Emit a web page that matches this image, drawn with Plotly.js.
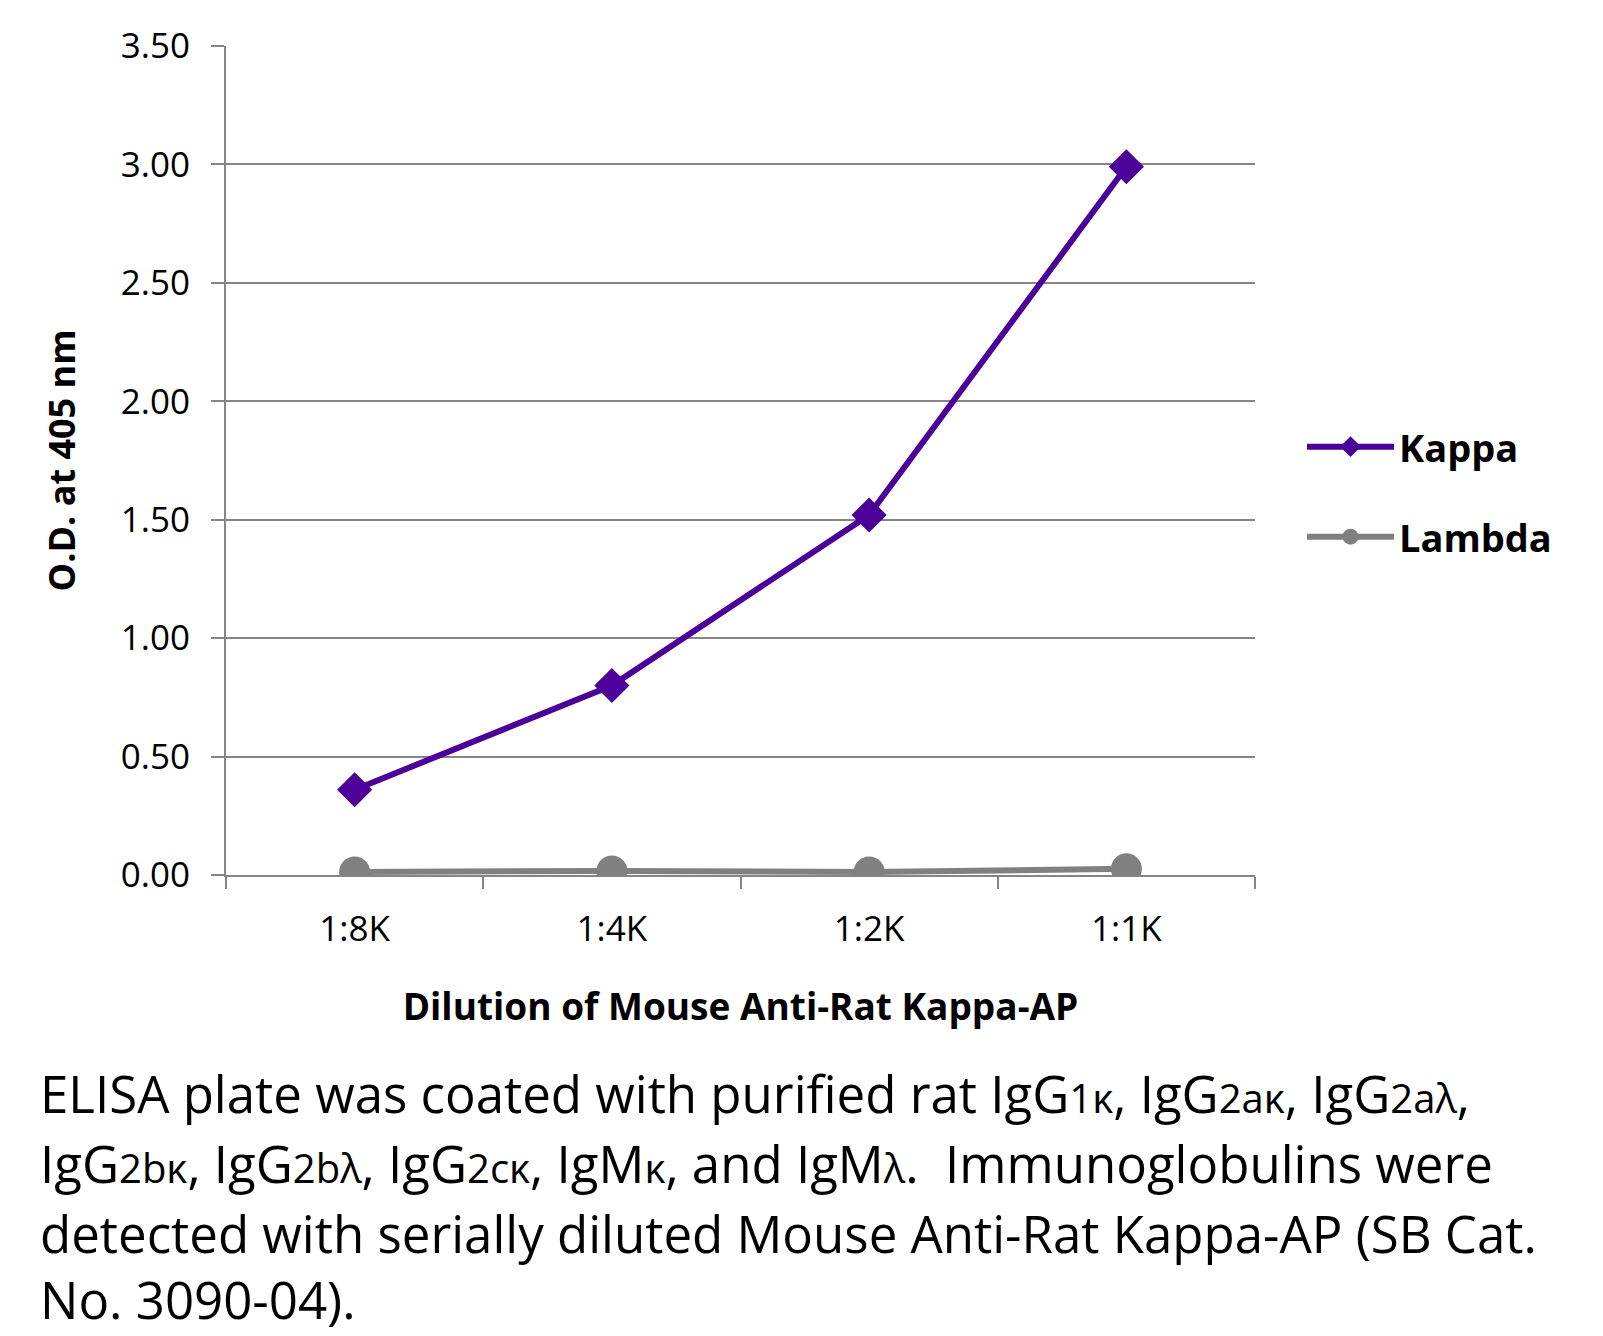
<!DOCTYPE html>
<html>
<head>
<meta charset="utf-8">
<script src="https://cdn.plot.ly/plotly-3.0.1.min.js"></script>
<style>html,body{margin:0;padding:0;background:#fff;}#chart{width:1603px;height:1336px;}</style>
</head>
<body>
<div id="chart"></div>
<script>
const categories = ["1:8K", "1:4K", "1:2K", "1:1K"];
const kappa = [0.36, 0.80, 1.52, 2.99];
const lambda = [0.013, 0.017, 0.013, 0.026];
const seriesNames = ["Kappa", "Lambda"];
const yTitle = "O.D. at 405 nm";
const xTitle = "Dilution of Mouse Anti-Rat Kappa-AP";
const captionLines = [
  'ELISA plate was coated with purified rat IgG<span style="font-size:40px">1κ</span>, IgG<span style="font-size:40px">2aκ</span>, IgG<span style="font-size:40px">2aλ</span>,',
  'IgG<span style="font-size:40px">2bκ</span>, IgG<span style="font-size:40px">2bλ</span>, IgG<span style="font-size:40px">2cκ</span>, IgM<span style="font-size:40px">κ</span>, and IgM<span style="font-size:40px">λ</span>.  Immunoglobulins were',
  'detected with serially diluted Mouse Anti-Rat Kappa-AP (SB Cat.',
  'No. 3090-04).'
];

const FONT = '"Open Sans", "Noto Sans", sans-serif';
const L = 226, R = 1255, T = 46, B = 875;
const W = 1603, H = 1336;
const pw = R - L, ph = B - T;
const px = v => (v - L) / pw;
const py = v => (B - v) / ph;

const traces = [
  {x: categories, y: kappa, name: seriesNames[0], type: 'scatter', mode: 'lines+markers',
   line: {color: '#4a0099', width: 6}, marker: {symbol: 'diamond', size: 27, color: '#4a0099'},
   legend: 'legend'},
  {x: categories, y: lambda, name: seriesNames[1], type: 'scatter', mode: 'lines+markers',
   line: {color: '#808080', width: 6}, marker: {symbol: 'circle', size: 31, color: '#808080'},
   legend: 'legend2'}
];

const captionY = [1093, 1163, 1233, 1299];
const annotations = captionLines.map((t, i) => ({
  text: t, xref: 'paper', yref: 'paper', x: px(38), y: py(captionY[i]),
  xanchor: 'left', yanchor: 'middle', showarrow: false, align: 'left',
  font: {family: FONT, size: 51, color: '#000'}
}));

const legendBase = {
  xanchor: 'left', yanchor: 'middle', bgcolor: 'rgba(0,0,0,0)', itemwidth: 87,
  font: {family: FONT, size: 38, color: '#000', weight: 'bold'}
};

const layout = {
  width: W, height: H,
  margin: {l: L, r: W - R, t: T, b: H - B},
  paper_bgcolor: '#fff', plot_bgcolor: '#fff',
  showlegend: true,
  legend: Object.assign({}, legendBase, {x: px(1302), y: py(447)}),
  legend2: Object.assign({}, legendBase, {x: px(1302), y: py(537)}),
  xaxis: {
    type: 'category', range: [-0.5, 3.5], tickson: 'boundaries',
    ticks: 'outside', ticklen: 12, tickwidth: 2, tickcolor: '#858585',
    showline: true, linecolor: '#858585', linewidth: 2, showgrid: false,
    ticklabelstandoff: 22,
    tickfont: {family: FONT, size: 35, color: '#000'},
    title: {text: xTitle, standoff: 44, font: {family: FONT, size: 37, color: '#000', weight: 'bold'}}
  },
  yaxis: {
    range: [0, 3.5], dtick: 0.5, tickformat: '.2f',
    ticks: 'outside', ticklen: 13, tickwidth: 2, tickcolor: '#858585',
    showline: true, linecolor: '#858585', linewidth: 2,
    showgrid: true, gridcolor: '#858585', gridwidth: 2, zeroline: false,
    ticklabelstandoff: 14,
    tickfont: {family: FONT, size: 35, color: '#000'},
    title: {text: yTitle, standoff: 34, font: {family: FONT, size: 36, color: '#000', weight: 'bold'}}
  },
  annotations: annotations
};

Plotly.newPlot('chart', traces, layout, {displayModeBar: false, staticPlot: true});
</script>
</body>
</html>
